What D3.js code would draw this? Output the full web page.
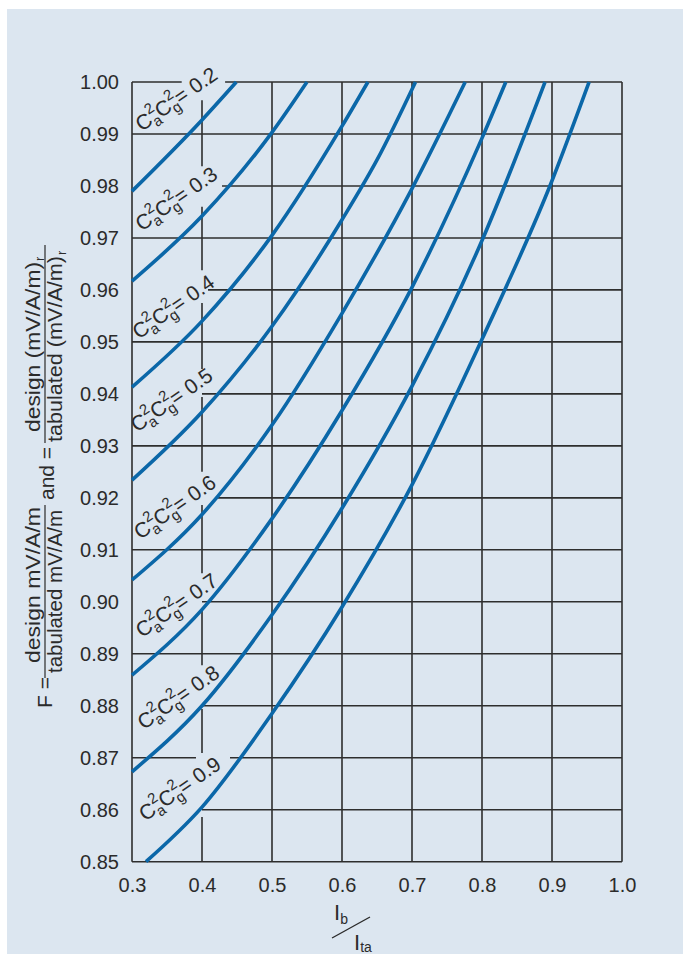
<!DOCTYPE html>
<html><head><meta charset="utf-8">
<script src="https://cdn.jsdelivr.net/npm/d3@7"></script>
<style>html,body{margin:0;padding:0;background:#fff}svg{display:block}</style>
</head><body>
<script>
// ---------- data ----------
const caCg2Values = ["0.2","0.3","0.4","0.5","0.6","0.7","0.8","0.9"];
const curve02 = [[0.3,0.979],[0.4,0.9927],[0.449,1.0]];
const curve03 = [[0.3,0.9617],[0.4,0.9742],[0.5,0.9903],[0.55,1.0]];
const curve04 = [[0.3,0.9413],[0.4,0.954],[0.5,0.9705],[0.6,0.9915],[0.637,1.0]];
const curve05 = [[0.3,0.9234],[0.4,0.9365],[0.5,0.953],[0.6,0.9735],[0.65,0.985],[0.705,1.0]];
const curve06 = [[0.3,0.9042],[0.4,0.9168],[0.5,0.934],[0.6,0.9555],[0.7,0.9795],[0.776,1.0]];
const curve07 = [[0.3,0.8859],[0.4,0.8985],[0.5,0.916],[0.6,0.9368],[0.7,0.9605],[0.8,0.9892],[0.834,1.0]];
const curve08 = [[0.3,0.8673],[0.4,0.880],[0.5,0.8975],[0.6,0.918],[0.7,0.9415],[0.8,0.9695],[0.890,1.0]];
const curve09 = [[0.32,0.85],[0.4,0.8605],[0.5,0.8785],[0.6,0.899],[0.7,0.9225],[0.8,0.9505],[0.9,0.981],[0.953,1.0]];
const curves = [curve02,curve03,curve04,curve05,curve06,curve07,curve08,curve09];
const xTicks = [0.3,0.4,0.5,0.6,0.7,0.8,0.9,1.0];
const yTicks = [0.85,0.86,0.87,0.88,0.89,0.90,0.91,0.92,0.93,0.94,0.95,0.96,0.97,0.98,0.99,1.00];

// ---------- layout ----------
const W = 683, H = 954;
const x = d3.scaleLinear().domain([0.3,1.0]).range([132,622]);
const y = d3.scaleLinear().domain([0.85,1.0]).range([861.7,82]);
// gridline interruptions around the curve labels (data units)
const hSegs = {"1.00":[[0.3,0.371],[0.433,1]],"0.98":[[0.4286,1]],"0.96":[[0.4086,1]],"0.94":[[0.4,1]],
  "0.92":[[0.4229,1]],"0.90":[[0.4,1]],"0.88":[[0.4,1]],"0.87":[[0.3,0.3914],[0.44,1]],"0.86":[[0.4,1]]};
const vSegs = {"0.4":[[0.9965,0.9838],[0.976,0.9638],[0.9575,0.9448],[0.9394,0.925],[0.9186,0.9055],[0.8988,0.8878],[0.8794,0.8709],[0.8586,0.85]]};
const labelAnchors = [[0.3139,0.9904],[0.3139,0.9712],[0.3096,0.9504],[0.3071,0.9325],[0.3119,0.9119],[0.3143,0.893],[0.3167,0.8753],[0.319,0.8577]];
const FONT = "'Liberation Sans', Arial, Helvetica, sans-serif";
const TXT = "#2b2b2b", GRID = "#2e2e2e", BLUE = "#0b67a8";

const svg = d3.select("body").append("svg").attr("width",W).attr("height",H)
  .style("font-family",FONT);
svg.append("rect").attr("x",7).attr("y",9).attr("width",W-7).attr("height",H-9).attr("fill","#dce6f0");

// grid
const g = svg.append("g").attr("stroke",GRID).attr("stroke-width",1.6).attr("fill","none");
yTicks.forEach(v=>{
  const k = v.toFixed(2);
  const segs = hSegs[k] || [[0.3,1.0]];
  segs.forEach(s=>g.append("line").attr("x1",x(s[0])).attr("x2",x(s[1])).attr("y1",y(v)).attr("y2",y(v)));
});
xTicks.forEach(v=>{
  const k = v.toFixed(1);
  const segs = vSegs[k] || [[1.0,0.85]];
  segs.forEach(s=>g.append("line").attr("x1",x(v)).attr("x2",x(v)).attr("y1",y(s[0])).attr("y2",y(s[1])));
});

// axes labels (tick text only)
const ax = svg.append("g").attr("transform",`translate(0,${y(0.85)})`)
  .call(d3.axisBottom(x).tickValues(xTicks).tickFormat(d3.format(".1f")).tickSize(0).tickPadding(16));
const ay = svg.append("g").attr("transform",`translate(${x(0.3)},0)`)
  .call(d3.axisLeft(y).tickValues(yTicks).tickFormat(d3.format(".2f")).tickSize(0).tickPadding(13));
[ax,ay].forEach(a=>{a.select(".domain").remove();
  a.selectAll("text").attr("font-size",20).attr("fill",TXT).style("font-family",FONT);});

// curves
const line = d3.line().x(d=>x(d[0])).y(d=>y(d[1])).curve(d3.curveMonotoneX);
svg.append("g").selectAll("path").data(curves).join("path")
  .attr("d",line).attr("fill","none").attr("stroke",BLUE).attr("stroke-width",3.6).attr("stroke-linecap","butt");

// curve labels
caCg2Values.forEach((v,i)=>{
  const [lx,ly] = labelAnchors[i];
  const t = svg.append("text").attr("transform",`translate(${x(lx)},${y(ly)}) rotate(-35)`)
    .attr("font-size",21).attr("fill",TXT);
  t.append("tspan").text("C");
  t.append("tspan").attr("font-size",15).attr("dy",-10).text("2");
  t.append("tspan").attr("font-size",15).attr("dx",-8.3).attr("dy",15).text("a");
  t.append("tspan").attr("dy",-5).text("C");
  t.append("tspan").attr("font-size",15).attr("dy",-10).text("2");
  t.append("tspan").attr("font-size",15).attr("dx",-8.3).attr("dy",15).text("g");
  t.append("tspan").attr("dy",-5).text("= " + v);
});

// x-axis title  I_b / I_ta
const xt = svg.append("g").attr("fill",TXT);
const t1 = xt.append("text").attr("x",334).attr("y",920).attr("font-size",22);
t1.append("tspan").text("I");
t1.append("tspan").attr("font-size",14).attr("dy",4).text("b");
xt.append("line").attr("x1",332).attr("y1",938).attr("x2",370).attr("y2",917).attr("stroke",TXT).attr("stroke-width",1.4);
const t2 = xt.append("text").attr("x",354).attr("y",950).attr("font-size",22);
t2.append("tspan").text("I");
t2.append("tspan").attr("font-size",14).attr("dy",2).text("ta");

// y-axis title (rotated)
const yt = svg.append("g").attr("transform","translate(45,708) rotate(-90)").attr("fill",TXT).attr("font-size",21);
yt.append("text").attr("x",0).attr("y",7).text("F =");
yt.append("text").attr("x",45).attr("y",-5.5).attr("textLength",156).attr("lengthAdjust","spacingAndGlyphs").text("design mV/A/m");
yt.append("line").attr("x1",30).attr("x2",203).attr("y1",0).attr("y2",0).attr("stroke",TXT).attr("stroke-width",1.2);
yt.append("text").attr("x",35).attr("y",17).attr("textLength",163).attr("lengthAdjust","spacingAndGlyphs").text("tabulated mV/A/m");
yt.append("text").attr("x",208).attr("y",9).text("and =");
yt.append("text").attr("x",276).attr("y",-5.5).attr("textLength",170).attr("lengthAdjust","spacingAndGlyphs").text("design (mV/A/m)");
yt.append("text").attr("x",447).attr("y",-1.5).attr("font-size",13).text("r");
yt.append("line").attr("x1",265).attr("x2",463).attr("y1",0).attr("y2",0).attr("stroke",TXT).attr("stroke-width",1.2);
yt.append("text").attr("x",266).attr("y",17).attr("textLength",186).attr("lengthAdjust","spacingAndGlyphs").text("tabulated (mV/A/m)");
yt.append("text").attr("x",453).attr("y",21).attr("font-size",13).text("r");
</script>
</body></html>
